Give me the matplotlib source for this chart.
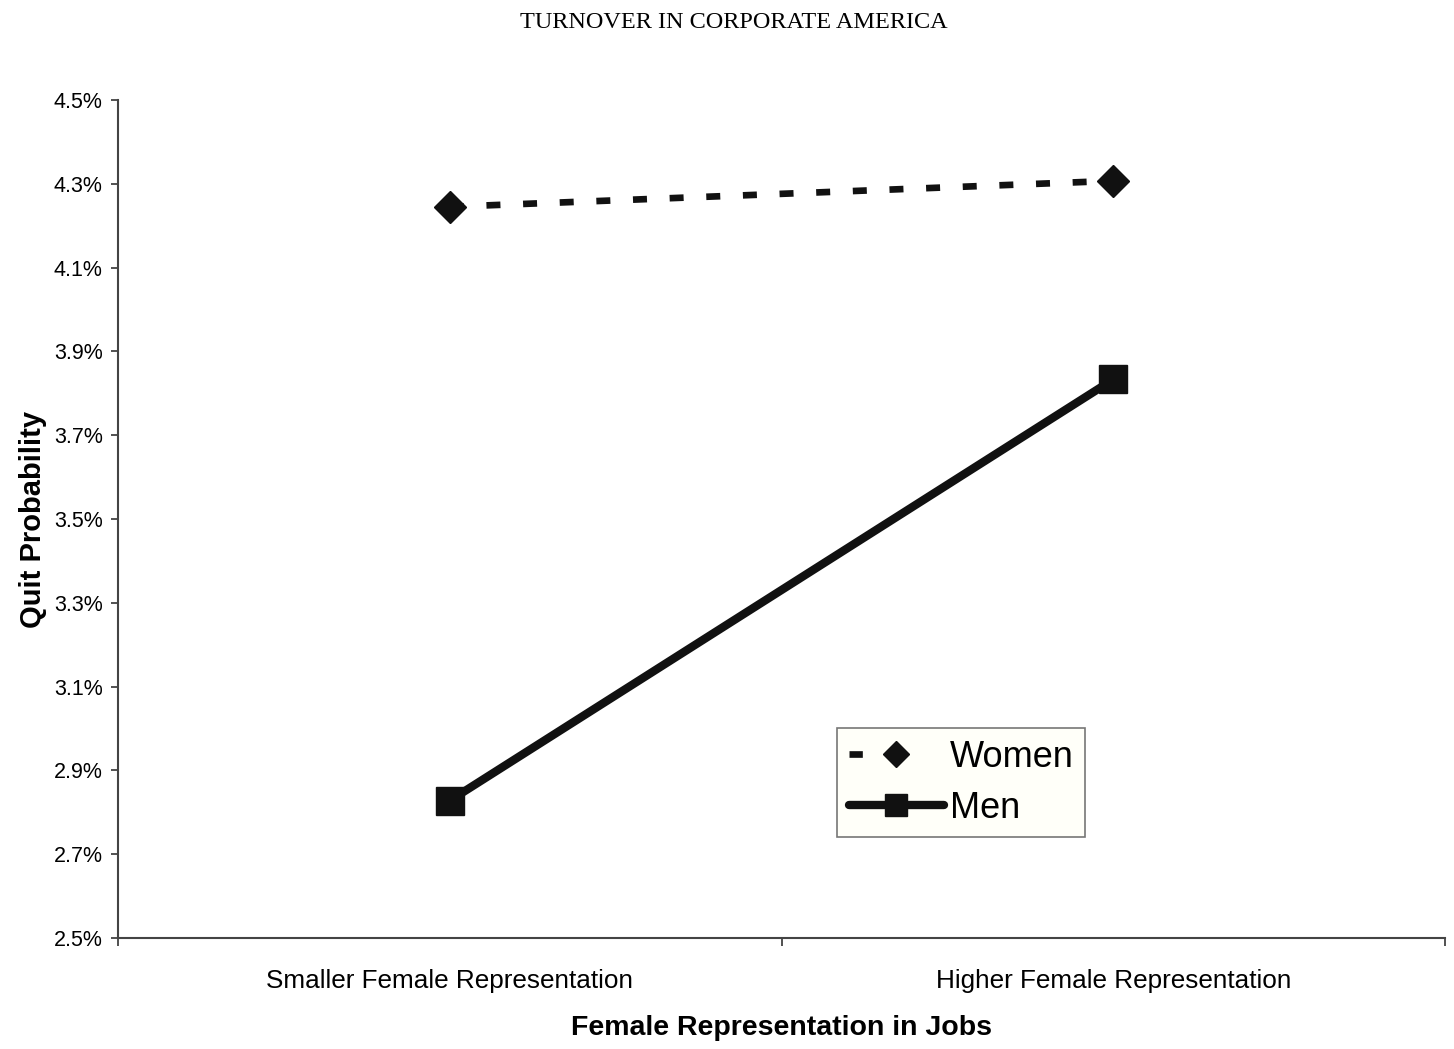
import numpy as np
import matplotlib
matplotlib.use('Agg')
import matplotlib.pyplot as plt
from matplotlib.lines import Line2D
from matplotlib.ticker import FuncFormatter

plt.rcParams['font.family'] = 'Liberation Sans'

# data
categories = ['Smaller Female Representation', 'Higher Female Representation']
women = [4.245, 4.307]
men = [2.828, 3.833]
yticks = np.arange(2.5, 4.51, 0.2)

fig = plt.figure(figsize=(14.54, 10.49), dpi=100)
ax = fig.add_axes([0.0812, 0.1058, 0.9126, 0.7989])

x = np.arange(len(categories))
ax.plot(x, women, color='#111111', lw=4.8, ls=(0, (2.1, 3.4)), marker='D',
        markersize=16, label='Women', dash_capstyle='butt')
ax.plot(x, men, color='#111111', lw=6, marker='s', markersize=20,
        label='Men', solid_capstyle='round')

ax.set_xlim(-0.5, 1.5)
ax.set_ylim(2.5, 4.5)
ax.set_yticks(yticks)
ax.yaxis.set_major_formatter(FuncFormatter(lambda v, p: '%.1f%%' % v))
ax.set_xticks([-0.5, 0.5, 1.5])
ax.set_xticklabels([])
ax.set_xticks(x, minor=True)
ax.set_xticklabels(categories, minor=True, fontsize=18.8)
ax.tick_params(axis='x', which='minor', length=0, pad=22)
ax.tick_params(axis='x', which='major', length=6, width=1.2, color='#333333')
ax.tick_params(axis='y', length=5, width=1.2, color='#333333', labelsize=15.5, pad=6)

for s in ['top', 'right']:
    ax.spines[s].set_visible(False)
for s in ['left', 'bottom']:
    ax.spines[s].set_linewidth(1.5)
    ax.spines[s].set_color('#444444')

ax.set_ylabel('Quit Probability', fontsize=21, fontweight='bold', labelpad=5)
ax.set_xlabel('Female Representation in Jobs', fontsize=20.5, fontweight='bold', labelpad=16)

fig.text(0.5045, 0.979, 'TURNOVER IN CORPORATE AMERICA', family='Liberation Serif',
         fontsize=17.5, ha='center', va='center')

# legend proxies: women handle shows one dash then the diamond
h_women = Line2D([], [], color='#111111', lw=4.8, ls=(0, (2.0, 30)), marker='D',
                 markersize=13, dash_capstyle='butt')
h_men = Line2D([], [], color='#111111', lw=6, marker='s', markersize=16,
               solid_capstyle='round')
leg = ax.legend([h_women, h_men], ['Women', 'Men'], loc='upper left',
                bbox_to_anchor=(0.5418, 0.2506), fontsize=26,
                frameon=True, fancybox=False, handlelength=2.65, handletextpad=0.15,
                borderpad=0.32, labelspacing=0.45, borderaxespad=0)
leg.get_frame().set_facecolor('#fffff8')
leg.get_frame().set_edgecolor('#555555')
leg.get_frame().set_linewidth(1.2)

fig.savefig('out.png', dpi=100)
